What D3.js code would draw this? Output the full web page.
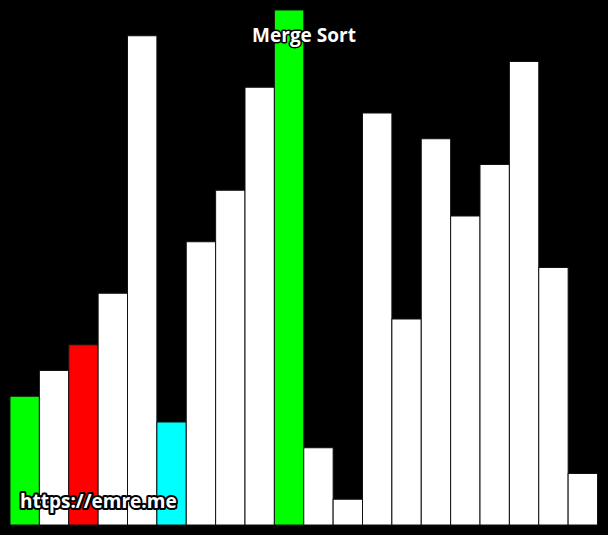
<!DOCTYPE html>
<html>
<head>
<meta charset="utf-8">
<script src="https://cdn.jsdelivr.net/npm/d3@7"></script>
<style>
  html, body { margin: 0; padding: 0; background: #000; }
  svg { display: block; }
</style>
</head>
<body>
<div id="chart"></div>
<script>
// Merge sort snapshot: 20 bars, a few highlighted.
const values = [5, 6, 7, 9, 19, 4, 11, 13, 17, 20, 3, 1, 16, 8, 15, 12, 14, 18, 10, 2];
const barColors = ['#00ff00', '#ffffff', '#ff0000', '#ffffff', '#ffffff', '#00ffff', '#ffffff', '#ffffff', '#ffffff', '#00ff00',
                   '#ffffff', '#ffffff', '#ffffff', '#ffffff', '#ffffff', '#ffffff', '#ffffff', '#ffffff', '#ffffff', '#ffffff'];
const title = 'Merge Sort';
const watermark = 'https://emre.me';

const W = 608, H = 535;

const svg = d3.select('#chart').append('svg').attr('width', W).attr('height', H);
svg.append('rect').attr('width', W).attr('height', H).attr('fill', '#000');

const x = d3.scaleBand().domain(d3.range(values.length)).range([10, 597.5]).padding(0);
const y = d3.scaleLinear().domain([0, 20]).range([525, 10]);

svg.append('g')
  .selectAll('rect')
  .data(values)
  .join('rect')
  .attr('x', (d, i) => x(i))
  .attr('y', d => y(d))
  .attr('width', x.bandwidth())
  .attr('height', d => y(0) - y(d))
  .attr('fill', (d, i) => barColors[i])
  .attr('stroke', '#111')
  .attr('stroke-width', 1);

// title with dark outline
svg.append('text')
  .attr('x', 304).attr('y', 42)
  .attr('text-anchor', 'middle')
  .style('font-family', '"Open Sans", sans-serif')
  .style('font-weight', 'bold')
  .style('font-size', '19px')
  .attr('fill', '#fff')
  .attr('stroke', '#000').attr('stroke-width', 3)
  .attr('paint-order', 'stroke')
  .attr('stroke-linejoin', 'round')
  .text(title);

// watermark
svg.append('text')
  .attr('x', 20).attr('y', 508)
  .style('font-family', '"Open Sans", sans-serif')
  .style('font-weight', 'bold')
  .style('font-size', '19px')
  .attr('fill', '#fff')
  .attr('stroke', '#000').attr('stroke-width', 4)
  .attr('paint-order', 'stroke')
  .attr('stroke-linejoin', 'round')
  .text(watermark);
</script>
</body>
</html>
